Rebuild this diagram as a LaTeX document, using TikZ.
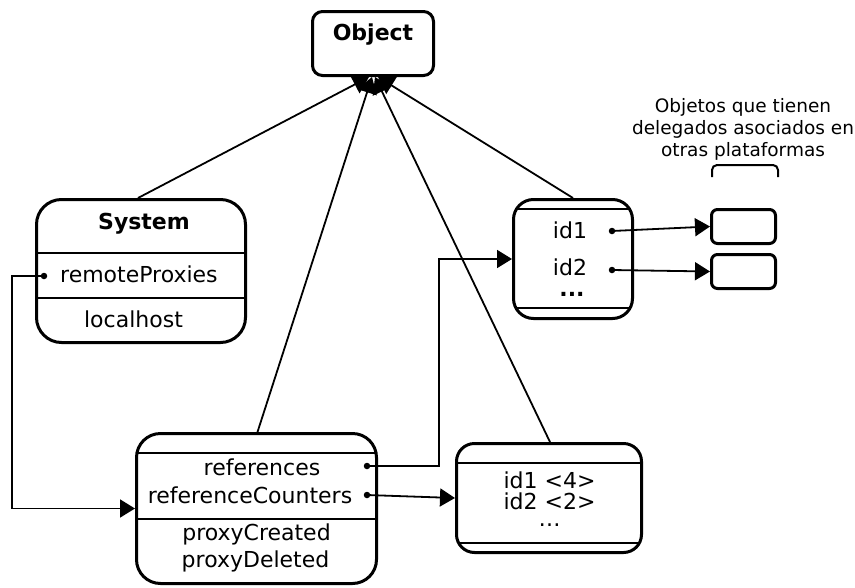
\documentclass[tikz,border=0pt]{standalone}
\usepackage{fontspec}
\setmainfont{DejaVu Sans}
\usepackage{tikz}
\usetikzlibrary{arrows.meta}
\tikzset{box/.style={draw,line width=3pt,rounded corners=#1,inner sep=0pt},
box/.default=20pt,
sep/.style={line width=1.6pt},
link/.style={-{Triangle[length=15pt,width=18pt]},line width=1.8pt},
isa/.style={-{Triangle[length=16pt,width=20pt]},line width=1.8pt},
dot/.style={circle,fill,inner sep=0pt,minimum size=6.5pt},
lbl/.style={inner sep=0pt,anchor=base},
title/.style={lbl,font=\fontsize{22}{26}\selectfont\bfseries},
note/.style={inner sep=0pt,anchor=base,align=center,font=\fontsize{18.5}{22}\selectfont}}

\begin{document}
\begin{tikzpicture}[x=1pt,y=-1pt,font=\fontsize{22}{26}\selectfont]
\useasboundingbox (0,0) rectangle (855,587);
% boxes
\node[box=10pt,minimum width=121pt,minimum height=64pt] (object) at (373,43.5) {};
\node[box=25pt,minimum width=209pt,minimum height=143pt] (system) at (141,271) {};
\node[box=24pt,minimum width=240pt,minimum height=150pt] (manager) at (256.5,508.5) {};
\node[box=20pt,minimum width=119pt,minimum height=119pt] (ids) at (573,259) {};
\node[box=18pt,minimum width=185pt,minimum height=109pt] (counters) at (549,498) {};
\node[box=6pt,minimum width=64pt,minimum height=34pt] (remoteA) at (743.5,226.5) {};
\node[box=6pt,minimum width=64pt,minimum height=34pt] (remoteB) at (743.5,271.5) {};

% separators
\foreach \n/\y/\s in {system/253/1,system/298/1,manager/453/1,manager/519/1,
  counters/463/1,counters/543/3,ids/209/3,ids/308/3}
  \draw[sep,shorten <=\s pt,shorten >=\s pt] (\n.west |- 0,\y) -- (\n.east |- 0,\y);

% texts
\node[title] (objname) at (373,40) {Object};
\node[title] (sysname) at (144,229) {System};
\node[lbl,anchor=base west] (rp) at (60,282) {remoteProxies};
\node[lbl] (lh) at (133.5,327) {localhost};
\node[lbl] (refs) at (262,475) {references};
\node[lbl] (refcnt) at (250,503) {referenceCounters};
\node[lbl] (pc) at (256.5,540) {proxyCreated};
\node[lbl] (pd) at (255.5,567) {proxyDeleted};
\node[lbl,anchor=north,align=center,font=\fontsize{22}{21}\selectfont] (cnt) at (549.5,472)
  {id1 {<}4{>}\\id2 {<}2{>}\\[-4pt]\dots};
\node[lbl] (idA) at (570,238) {id1};
\node[lbl] (idB) at (570,275) {id2};
\node[title] (idC) at (572,296) {...};
\node[note] (remark) at (743,156) {Objetos que tienen\\delegados asociados en\\otras plataformas};

% dots
\node[dot] (rpdot) at (44,276) {};
\node[dot] (refdot) at (367,466) {};
\node[dot] (cntdot) at (367,495) {};
\node[dot] (idAdot) at (612,231) {};
\node[dot] (idBdot) at (612,270) {};

% inheritance
\draw[isa] ([xshift=-3pt]system.north) -- ([xshift=-4pt]object.south);
\draw[isa] ([xshift=1pt]manager.north) -- ([xshift=-1pt]object.south);
\draw[isa] ([xshift=1pt]counters.north) -- ([xshift=2pt]object.south);
\draw[isa] (ids.north) -- ([xshift=5pt]object.south);

% references
\draw[link] (rpdot.center) -- ++(-32,0) |- (manager.west);
\draw[link] (refdot.center) -- ++(72,0) |- (ids.west);
\draw[link] (cntdot.center) -- (counters.west);
\draw[link] (idAdot.center) -- (remoteA.west);
\draw[link] (idBdot.center) -- (remoteB.west);

% bracket
\draw[line width=2pt,rounded corners=5pt] (712,177) -- (712,165) -- (778,165) -- (778,177);
\end{tikzpicture}
\end{document}
